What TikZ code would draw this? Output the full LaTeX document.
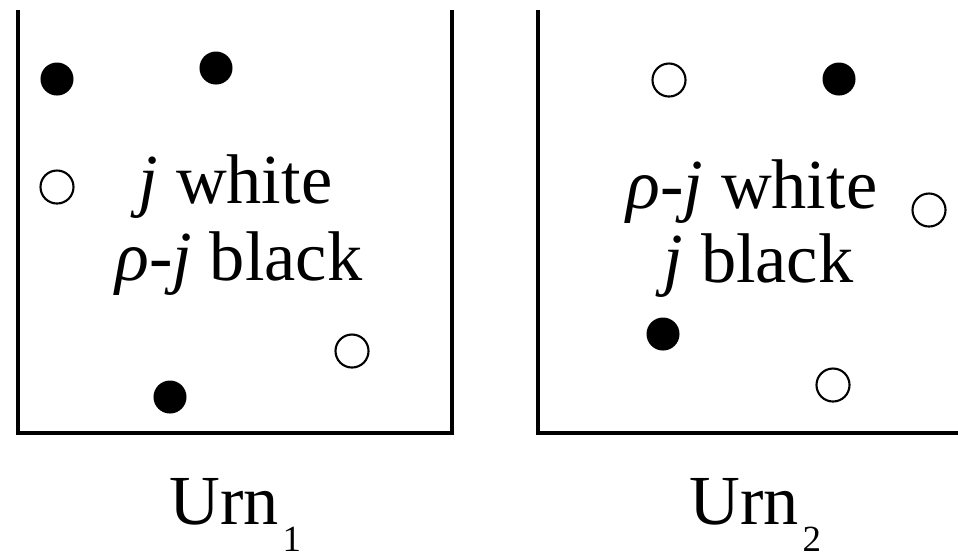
\documentclass[tikz,border=0pt]{standalone}
\usepackage{fontspec}
\setmainfont{Liberation Serif}
\usetikzlibrary{positioning}
\newcommand{\urnsub}[1]{\kern1pt\raisebox{-7.8pt}{\fontsize{10.5}{12}\selectfont #1}}
\begin{document}
\begin{tikzpicture}[
        x=0.01cm, y=-0.01cm,
        wall/.style={line width=1.4pt, line join=miter},
        full/.style={circle, fill=black, inner sep=0pt, minimum size=0.33cm},
        hollow/.style={circle, draw, line width=0.6pt, fill=white, inner sep=0pt, minimum size=0.33cm},
        txt/.style={anchor=base east, inner sep=0pt, font=\fontsize{20}{22}\selectfont},
        lbl/.style={anchor=base west, inner sep=0pt, font=\fontsize{20}{22}\selectfont},
    ]
    \useasboundingbox (0,0) rectangle (958,553);

    % Urn walls
    \draw[wall] (18,10) -- (18,433) -- (452,433) -- (452,10);
    \draw[wall] (538,10) -- (538,433) -- (958,433);

    % Balls in first urn
    \node[full] (a1) at (57,79) {};
    \node[full] (a2) at (216,68) {};
    \node[hollow] (a3) at (57,187) {};
    \node[hollow] (a4) at (352,351) {};
    \node[full] (a5) at (170,397) {};

    % Balls in second urn
    \node[hollow] (b1) at (669,80) {};
    \node[full] (b2) at (839,79) {};
    \node[hollow] (b3) at (929,210) {};
    \node[full] (b4) at (663,334) {};
    \node[hollow] (b5) at (833,385) {};

    % Contents
    \node[txt] (w1) at (333,203) {\textit{j} white};
    \node[txt] (k1) at (363,280) {\textit{ρ-j} black};
    \node[txt] (w2) at (878,208) {\textit{ρ-j} white};
    \node[txt] (k2) at (854,282) {\textit{j} black};

    % Labels
    \node[lbl] (urn1) at (169,524) {Urn\urnsub{1}};
    \node[lbl] (urn2) at (689,524) {Urn\urnsub{2}};
\end{tikzpicture}
\end{document}
